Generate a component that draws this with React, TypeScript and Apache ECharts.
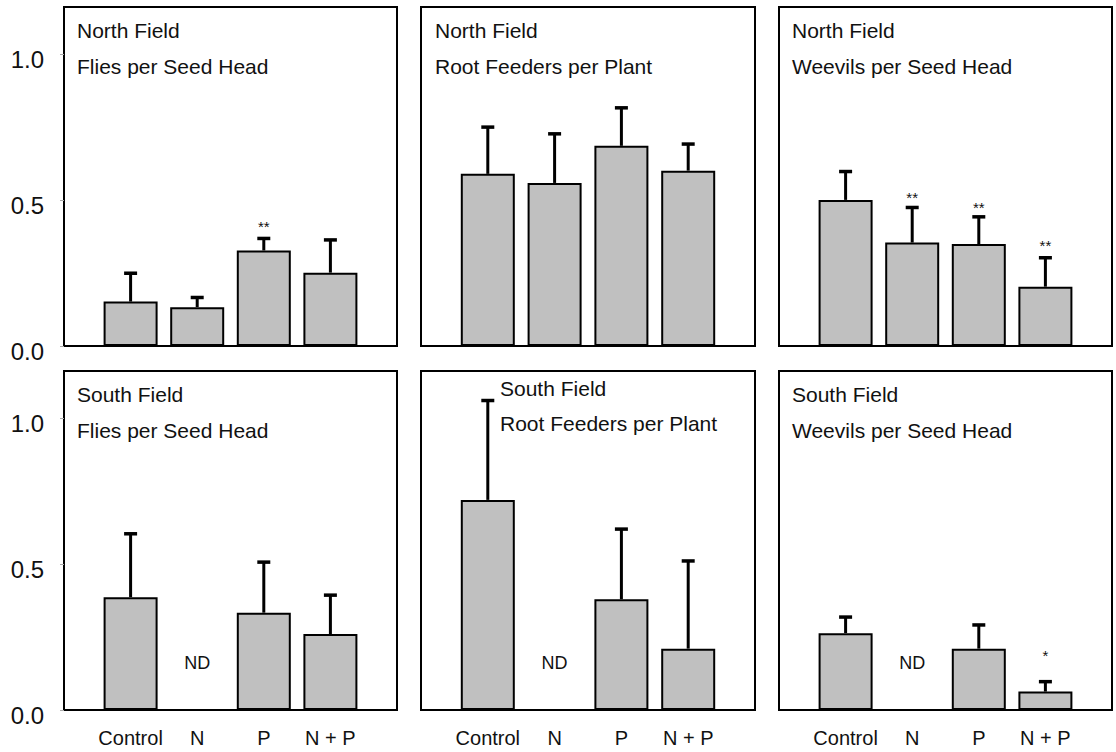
import React, { useEffect, useRef } from 'react';
import * as echarts from 'echarts';

// ---------- data ----------
const categories = ['', 'Control', 'N', 'P', 'N + P', ''];
const yTicks = [0, 0.5, 1.0];

const northFliesMean = [0.152, 0.133, 0.327, 0.251];
const northFliesUpper = [0.249, 0.166, 0.368, 0.363];
const northFliesMarks = [{ cat: 'P', text: '**', level: 0.408 }];

const northRootMean = [0.589, 0.558, 0.685, 0.6];
const northRootUpper = [0.749, 0.726, 0.815, 0.691];
const northRootMarks: { cat: string; text: string; level: number }[] = [];

const northWeevilMean = [0.5, 0.354, 0.349, 0.203];
const northWeevilUpper = [0.597, 0.474, 0.442, 0.302];
const northWeevilMarks = [
  { cat: 'N', text: '**', level: 0.507 },
  { cat: 'P', text: '**', level: 0.473 },
  { cat: 'N + P', text: '**', level: 0.343 },
];

const southFliesMean = [0.386, null, 0.333, 0.26];
const southFliesUpper = [0.603, null, 0.506, 0.393];
const southFliesMarks = [{ cat: 'N', text: 'ND', level: 0.162 }];

const southRootMean = [0.719, null, 0.379, 0.21];
const southRootUpper = [1.059, null, 0.619, 0.51];
const southRootMarks = [{ cat: 'N', text: 'ND', level: 0.162 }];

const southWeevilMean = [0.263, null, 0.21, 0.063];
const southWeevilUpper = [0.318, null, 0.291, 0.097];
const southWeevilMarks = [
  { cat: 'N', text: 'ND', level: 0.16 },
  { cat: 'N + P', text: '*', level: 0.188 },
];

const panels = [
  { field: 'North Field', label: 'Flies per Seed Head', mean: northFliesMean, upper: northFliesUpper, marks: northFliesMarks, row: 0, col: 0 },
  { field: 'North Field', label: 'Root Feeders per Plant', mean: northRootMean, upper: northRootUpper, marks: northRootMarks, row: 0, col: 1 },
  { field: 'North Field', label: 'Weevils per Seed Head', mean: northWeevilMean, upper: northWeevilUpper, marks: northWeevilMarks, row: 0, col: 2 },
  { field: 'South Field', label: 'Flies per Seed Head', mean: southFliesMean, upper: southFliesUpper, marks: southFliesMarks, row: 1, col: 0 },
  { field: 'South Field', label: 'Root Feeders per Plant', mean: southRootMean, upper: southRootUpper, marks: southRootMarks, row: 1, col: 1 },
  { field: 'South Field', label: 'Weevils per Seed Head', mean: southWeevilMean, upper: southWeevilUpper, marks: southWeevilMarks, row: 1, col: 2 },
];

// ---------- layout ----------
const colLeft = [64, 421, 779];
const colWidth = [333, 334, 333];
const rowTop = [7, 371];
const gridHeight = 339;
const titleOffsets = [
  [13, 25, 61],
  [14, 25, 61],
  [13, 25, 61],
  [13, 25, 61],
  [79, 19, 54],
  [13, 25, 61],
];
const FONT = '"Liberation Sans", Arial, Helvetica, sans-serif';
const TXT = '#111';

export default function App() {
  const ref = useRef<HTMLDivElement>(null);
  useEffect(() => {
    const chart = echarts.init(ref.current!, null, { renderer: 'svg' });
    const grid: any[] = [];
    const xAxis: any[] = [];
    const yAxis: any[] = [];
    const series: any[] = [];
    const graphic: any[] = [];

    panels.forEach((p, i) => {
      const left = colLeft[p.col];
      const top = rowTop[p.row];
      grid.push({
        left, top, width: colWidth[p.col], height: gridHeight,
        show: true, borderColor: '#000', borderWidth: 2, backgroundColor: 'transparent',
      });
      xAxis.push({
        type: 'category', gridIndex: i, data: categories, boundaryGap: false,
        axisLine: { show: false }, axisTick: { show: false }, splitLine: { show: false },
        axisLabel: { show: p.row === 1, interval: 0, fontFamily: FONT, fontSize: 20, color: TXT, margin: 18 },
      });
      yAxis.push({
        type: 'value', gridIndex: i, min: 0, max: 1.16,
        axisLine: { show: false }, splitLine: { show: false },
        axisTick: { show: p.col === 0, customValues: yTicks, length: 4, lineStyle: { color: '#aaa', width: 1 } },
        axisLabel: {
          show: p.col === 0, customValues: yTicks,
          formatter: (v: number) => `{t|${v.toFixed(1)}}`,
          margin: 20,
          verticalAlign: 'middle',
          rich: {
            t: { fontFamily: FONT, fontSize: 24, color: TXT, padding: [11, 0, 0, 0] },
          },
        },
      });
      series.push({
        type: 'bar', xAxisIndex: i, yAxisIndex: i, barWidth: 54, z: 2,
        data: ['-', ...p.mean.map((m) => (m == null ? '-' : m)), '-'],
        itemStyle: { color: '#c0c0c0', borderColor: '#000', borderWidth: 2 },
      });
      const errData: number[][] = [];
      p.mean.forEach((m, j) => {
        if (m != null && p.upper[j] != null) errData.push([j + 1, m, p.upper[j] as number]);
      });
      series.push({
        type: 'custom', xAxisIndex: i, yAxisIndex: i, z: 3, clip: false,
        encode: { x: 0, y: [1, 2] },
        data: errData,
        renderItem: (params: any, api: any) => {
          const x = api.value(0);
          const lo = api.coord([x, api.value(1)]);
          const hi = api.coord([x, api.value(2)]);
          return {
            type: 'group',
            children: [
              { type: 'line', shape: { x1: lo[0], y1: lo[1], x2: hi[0], y2: hi[1] }, style: { stroke: '#000', lineWidth: 3 } },
              { type: 'line', shape: { x1: hi[0] - 6.5, y1: hi[1], x2: hi[0] + 6.5, y2: hi[1] }, style: { stroke: '#000', lineWidth: 3.5 } },
            ],
          };
        },
      });
      const marks = p.marks;
      series.push({
        type: 'custom', xAxisIndex: i, yAxisIndex: i, z: 4, clip: false,
        encode: { x: 0, y: 1 },
        data: marks.map((m) => [categories.indexOf(m.cat), m.level]),
        renderItem: (params: any, api: any) => {
          const m = marks[params.dataIndex];
          const pt = api.coord([api.value(0), api.value(1)]);
          const size = m.text === 'ND' ? 18 : 15;
          return {
            type: 'text', x: pt[0], y: pt[1],
            style: { text: m.text, font: `${size}px ${FONT}`, fill: TXT, align: 'center', verticalAlign: 'middle' },
          };
        },
      });
      const off = titleOffsets[i];
      graphic.push({
        type: 'text', left: left + off[0], top: top + off[1] - 12,
        style: { text: p.field, font: `21px ${FONT}`, fill: TXT },
      });
      graphic.push({
        type: 'text', left: left + off[0], top: top + off[2] - 12,
        style: { text: p.label, font: `21px ${FONT}`, fill: TXT },
      });
    });

    chart.setOption({
      animation: false,
      backgroundColor: '#fff',
      grid, xAxis, yAxis, series, graphic,
    });
    return () => chart.dispose();
  }, []);
  return <div ref={ref} style={{ position: 'absolute', left: 0, top: 0, width: 1116, height: 752 }} />;
}
